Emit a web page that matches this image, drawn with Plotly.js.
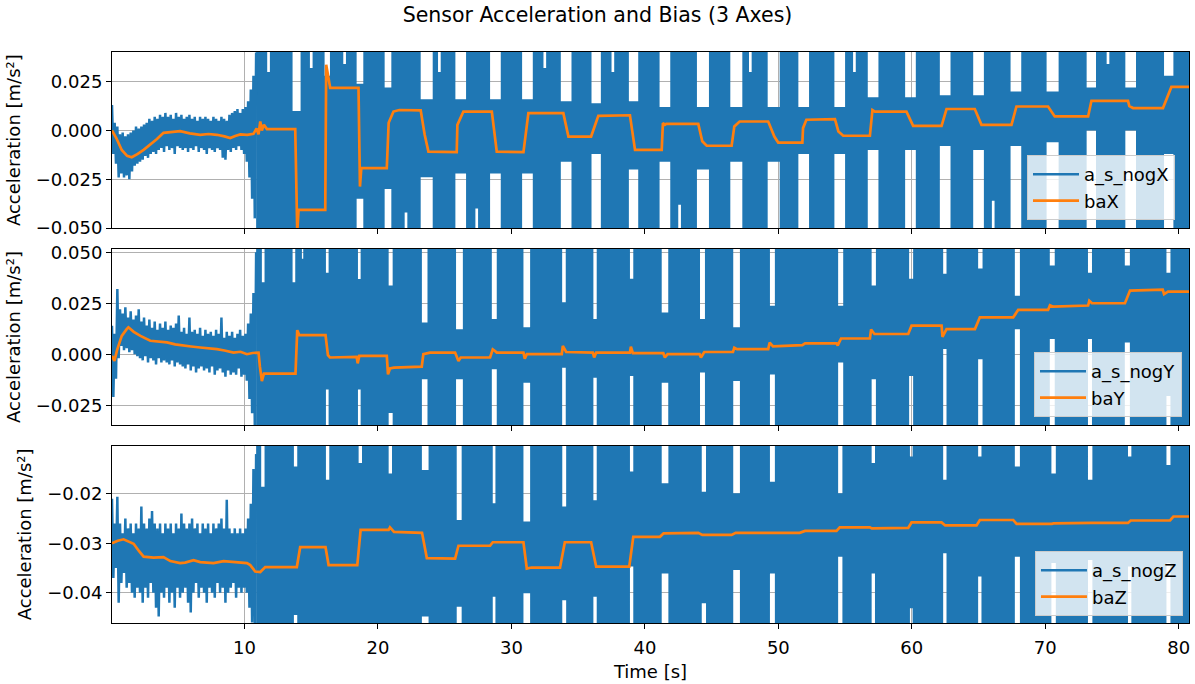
<!DOCTYPE html>
<html><head><meta charset="utf-8">
<script src="https://cdn.plot.ly/plotly-3.0.1.min.js"></script>
<style>html,body{margin:0;padding:0;background:#fff}#chart{width:1195px;height:684px}</style>
</head><body><div id="chart"></div>
<script>
// ---------- data ----------
const timeStart = 0.07, timeEnd = 80.77;
// quiet (pre-motion) part of a_s_nog*, sampled every 0.1 s from 0.07 s
const quietStart = 0.07, quietStep = 0.1;
const quietAccX = [
 0.013,-0.012,0.004,-0.017,0.002,-0.024,-0.002,-0.022,-0.001,-0.024,
 -0.003,-0.023,-0.002,-0.025,-0.001,-0.021,0.000,-0.018,0.002,-0.017,
 0.001,-0.016,0.002,-0.015,0.003,-0.013,0.004,-0.014,0.006,-0.012,
 0.005,-0.011,0.007,-0.012,0.006,-0.010,0.008,-0.009,0.007,-0.011,
 0.009,-0.008,0.007,-0.010,0.008,-0.009,0.006,-0.012,0.009,-0.008,
 0.007,-0.009,0.008,-0.010,0.006,-0.009,0.007,-0.011,0.008,-0.009,
 0.006,-0.010,0.007,-0.008,0.005,-0.011,0.007,-0.009,0.006,-0.010,
 0.007,-0.012,0.006,-0.009,0.005,-0.010,0.007,-0.011,0.006,-0.009,
 0.005,-0.010,0.007,-0.014,0.006,-0.015,0.005,-0.010,0.008,-0.011,
 0.009,-0.009,0.010,-0.010,0.011,-0.008,0.009,-0.010,0.011,-0.012,
 0.012,-0.016,0.015,-0.024,0.021,-0.035,0.028,-0.045,0.040];
const quietAccY = [
 0.014,-0.021,0.010,-0.012,0.032,-0.002,0.022,0.004,0.020,0.002,
 0.023,0.003,0.018,0.001,0.021,0.002,0.017,0.000,0.019,-0.001,
 0.022,-0.002,0.016,-0.003,0.018,-0.001,0.014,-0.004,0.017,-0.002,
 0.013,-0.003,0.016,-0.005,0.012,-0.002,0.015,-0.004,0.013,-0.003,
 0.016,-0.004,0.012,-0.005,0.014,-0.003,0.013,-0.006,0.015,-0.004,
 0.019,-0.005,0.011,-0.006,0.013,-0.007,0.010,-0.005,0.018,-0.008,
 0.011,-0.006,0.012,-0.009,0.010,-0.007,0.013,-0.006,0.009,-0.008,
 0.012,-0.007,0.010,-0.009,0.011,-0.006,0.009,-0.010,0.012,-0.008,
 0.010,-0.007,0.018,-0.009,0.008,-0.011,0.011,-0.008,0.009,-0.010,
 0.011,-0.009,0.008,-0.010,0.010,-0.007,0.012,-0.011,0.009,-0.010,
 0.010,-0.013,0.015,-0.022,0.020,-0.029,0.030,-0.035,0.050];
const quietAccZ = [
 -0.021,-0.037,-0.026,-0.035,-0.0206,-0.042,-0.026,-0.038,-0.028,-0.036,
 -0.025,-0.039,-0.027,-0.038,-0.026,-0.040,-0.028,-0.041,-0.026,-0.039,
 -0.027,-0.040,-0.0226,-0.042,-0.026,-0.039,-0.027,-0.041,-0.025,-0.038,
 -0.0235,-0.040,-0.026,-0.043,-0.027,-0.0448,-0.026,-0.040,-0.028,-0.041,
 -0.026,-0.039,-0.027,-0.042,-0.026,-0.040,-0.028,-0.043,-0.026,-0.039,
 -0.027,-0.041,-0.024,-0.040,-0.026,-0.039,-0.027,-0.042,-0.026,-0.044,
 -0.025,-0.040,-0.027,-0.038,-0.026,-0.041,-0.028,-0.039,-0.026,-0.040,
 -0.027,-0.042,-0.026,-0.039,-0.028,-0.040,-0.026,-0.041,-0.027,-0.038,
 -0.026,-0.040,-0.025,-0.039,-0.027,-0.042,-0.0212,-0.040,-0.027,-0.039,
 -0.028,-0.038,-0.027,-0.041,-0.028,-0.039,-0.027,-0.040,-0.028,-0.039,
 -0.027,-0.040,-0.025,-0.043,-0.022,-0.046,-0.015,-0.047,-0.012];

// motion part: a_s_nog* swings far beyond the axes; white gaps where it stays inside
// each gap: start s, end s, upper reach (null = off-scale), lower reach (null = off-scale)
const loudStart = 10.87;
const gapStartX = [11.7,13.6,14.9,16.0,17.4,18.4,20.5,22.0,23.2,24.5,25.8,27.3,28.4,30.8,32.4,33.7,36.0,37.5,38.8,41.1,42.5,43.9,46.4,47.8,49.2,51.5,54.2,55.6,56.7,59.5,62.1,64.6,66.0,67.4,70.1,73.1,74.6,76.0,78.9];
const gapEndX   = [11.9,14.2,15.1,16.4,17.6,18.9,21.0,22.2,24.1,24.7,26.6,27.5,29.2,31.6,32.6,34.5,36.7,37.7,39.5,41.9,42.7,44.8,47.3,48.0,50.1,52.3,55.0,55.8,57.5,60.3,62.9,65.4,66.2,68.2,71.0,73.8,74.8,76.8,79.6];
const gapTopX   = [0.03,0.010,0.032,0.028,0.034,0.024,0.022,null,0.016,0.030,0.016,null,0.016,0.016,0.032,0.015,0.014,0.030,0.015,0.012,null,0.012,0.012,0.030,0.012,0.012,0.012,0.030,0.017,0.017,0.018,0.018,null,0.020,0.020,0.022,0.034,0.022,0.028];
const gapBotX   = [null,null,null,null,null,-0.035,-0.030,-0.042,-0.024,null,-0.022,-0.040,-0.022,-0.022,null,-0.016,-0.012,null,-0.020,-0.016,-0.038,-0.020,-0.016,null,-0.016,-0.012,-0.012,null,-0.010,-0.010,-0.008,-0.010,-0.036,-0.008,-0.006,0.000,null,0.000,-0.012];

const gapStartY = [11.3,13.6,14.3,16.1,18.5,20.8,23.29,25.85,28.53,30.9,33.8,36.14,38.88,41.26,44.13,46.62,49.37,54.48,56.99,59.8,62.35,64.97,67.72,70.34,73.2,75.96,79.08];
const gapEndY   = [11.5,13.8,14.4,16.3,18.7,21.1,23.71,26.36,28.9,31.4,34.07,36.39,39.13,41.75,44.5,47.12,49.74,54.86,57.31,60.1,62.6,65.3,68.1,70.71,73.5,76.34,79.38];
const gapTopY   = [0.0353,0.0353,0.0468,0.040,0.0369,0.0337,0.0156,0.0123,0.0173,0.0132,0.0255,0.0173,0.037,0.0205,0.0173,0.0132,0.0238,0.0238,0.0337,0.037,0.0394,0.042,0.0287,0.0435,0.040,0.0435,0.040];
const gapBotY   = [null,null,null,-0.0173,-0.0173,-0.0288,-0.0123,-0.0123,-0.0074,-0.014,-0.0066,-0.0115,-0.0107,-0.014,-0.009,-0.0131,-0.0099,-0.0041,-0.0123,-0.0107,0.0025,-0.0025,0.0123,0.0074,0.0074,0.0058,-0.0205];

const gapStartZ = [11.25,13.7,16.1,18.55,20.8,23.29,25.9,28.6,30.9,33.81,36.14,38.88,41.26,44.26,46.62,49.37,54.48,56.99,59.86,62.35,64.97,67.72,70.46,73.2,76.2,79.08];
const gapEndZ   = [11.5,13.95,16.35,18.8,21.05,23.79,26.27,28.8,31.4,34.1,36.39,39.13,41.76,44.58,47.12,49.74,54.8,57.24,60.06,62.6,65.22,68.1,70.79,73.53,76.45,79.38];
const gapTopZ   = [-0.0186,-0.0145,-0.0172,-0.0138,-0.0159,-0.0152,-0.0253,-0.0219,-0.0256,-0.0226,-0.0213,-0.0155,-0.0179,-0.0196,-0.0199,-0.0176,-0.0199,-0.0138,-0.0125,-0.0172,-0.0125,-0.0145,-0.0159,-0.0172,-0.0125,-0.0142];
const gapBotZ   = [null,-0.0445,null,null,null,-0.0448,-0.0428,-0.0408,-0.0401,-0.0415,-0.0408,-0.0347,-0.0361,-0.0421,-0.0354,-0.0361,-0.0327,-0.0361,-0.0431,-0.032,-0.0367,-0.0327,-0.034,-0.0334,-0.0347,-0.034];

// bias estimates
const biasTimeX = [0.07,0.4,0.8,1.2,1.55,2.0,2.44,2.9,3.44,3.93,4.5,5.18,5.9,6.68,7.3,7.93,8.5,8.93,9.3,9.68,10.2,10.67,10.9,11.05,11.18,11.3,11.45,11.68,13.8,13.9,13.95,14.05,16.05,16.12,16.3,16.42,18.54,18.6,18.65,18.75,20.66,20.8,21.16,21.6,23.2,23.5,23.78,25.9,25.95,26.4,28.53,28.9,30.9,31.27,33.89,34.27,35.97,36.51,38.88,39.26,41.26,41.35,41.5,41.6,44.0,44.3,44.63,46.5,46.7,47.1,49.24,49.7,49.99,51.8,51.85,52.1,54.24,54.5,54.86,56.86,57.05,57.23,59.6,60.1,62.23,62.6,64.72,65.22,67.47,67.84,70.21,70.71,73.21,73.46,76.2,76.3,76.58,78.82,79.1,79.45,80.77];
const biasValX = [0.000,-0.004,-0.010,-0.013,-0.0137,-0.012,-0.0099,-0.0075,-0.0044,-0.0012,-0.0008,-0.0003,-0.0015,-0.0022,-0.0018,-0.0022,-0.0030,-0.0039,-0.0028,-0.0020,-0.0022,-0.0017,0.001,-0.002,0.0046,0.000,0.003,0.0007,0.0007,-0.030,-0.052,-0.0407,-0.0407,0.0337,0.025,0.0218,0.0218,-0.0193,-0.0287,-0.0193,-0.0193,0.004,0.0097,0.0105,0.0103,-0.0022,-0.0108,-0.0111,0.0029,0.0097,0.0097,-0.0108,-0.0111,0.0089,0.0089,-0.0031,-0.0031,0.0075,0.0078,-0.0099,-0.0099,0.0038,0.0029,0.0034,0.0034,-0.0055,-0.0078,-0.0078,0.0021,0.0046,0.0046,-0.0031,-0.0062,-0.0062,0.0012,0.0055,0.0058,-0.0005,-0.0027,-0.0027,0.0105,0.0097,0.0097,0.0024,0.0024,0.011,0.011,0.0029,0.0029,0.0123,0.0123,0.0072,0.0072,0.0152,0.0152,0.0125,0.0115,0.0115,0.016,0.0223,0.0223];

const biasTimeY = [0.07,0.25,0.45,0.8,1.17,1.3,1.7,2.2,2.94,3.5,4.19,4.8,5.43,6.0,6.68,7.3,7.93,8.5,9.18,9.7,10.18,10.6,11.05,11.15,11.3,11.45,13.82,13.95,14.1,16.07,16.25,16.4,18.4,18.48,18.6,20.66,20.75,20.9,21.2,23.28,23.4,23.9,25.78,26.03,26.2,28.4,28.6,28.77,28.9,30.9,31.0,31.15,33.77,33.85,34.1,36.1,36.2,36.35,38.88,38.95,39.1,41.38,41.5,41.7,44.1,44.2,44.45,46.6,46.7,46.9,49.24,49.35,49.6,51.8,52.0,54.36,54.45,54.7,56.86,56.95,57.2,59.73,59.98,62.23,62.3,62.6,64.73,65.1,67.6,67.97,70.21,70.35,70.6,73.21,73.3,73.5,75.97,76.35,78.8,78.9,79.2,80.77];
const biasValY = [-0.0008,-0.0033,0.002,0.009,0.0123,0.0132,0.011,0.009,0.0066,0.0062,0.0058,0.0048,0.0041,0.0038,0.0033,0.0030,0.0025,0.0018,0.0008,0.0012,0.0,0.0006,0.0008,-0.006,-0.0132,-0.0095,-0.0095,0.0118,0.0094,0.0094,-0.0005,-0.0016,-0.0013,-0.0045,-0.0008,-0.0008,-0.0099,-0.0070,-0.0066,-0.0061,0.0,0.0008,0.0008,-0.0033,-0.0016,-0.0016,0.0024,0.0016,0.0008,0.0008,-0.0022,0.0,0.0,0.0041,0.0011,0.0008,-0.0016,0.0008,0.0008,0.0037,0.0005,0.0005,-0.0016,0.0,0.0,-0.0016,0.0011,0.0011,0.0032,0.0025,0.0025,0.0057,0.0038,0.0045,0.0053,0.0053,0.0043,0.0077,0.0077,0.0121,0.0099,0.0099,0.014,0.014,0.0085,0.0123,0.0123,0.0181,0.0181,0.0217,0.0217,0.024,0.0233,0.0239,0.0262,0.025,0.025,0.0312,0.0317,0.0295,0.0307,0.0307];

const biasTimeZ = [0.07,0.5,0.94,1.3,1.69,2.1,2.44,3.19,3.93,4.44,5.18,5.55,6.18,6.68,7.68,8.43,9.18,10.18,10.43,10.8,11.18,11.55,13.92,14.17,16.07,16.3,18.45,18.7,20.8,20.9,21.2,23.3,23.66,25.78,26.03,28.4,28.6,30.9,31.15,31.5,33.64,34.0,35.97,36.35,38.83,39.13,41.13,41.4,44.0,44.3,46.5,46.8,51.6,52.0,54.36,54.6,56.86,57.0,59.73,59.98,62.23,62.5,64.85,65.1,67.6,67.85,70.5,70.6,73.5,76.2,76.4,79.35,79.6,80.77];
const biasValZ = [-0.030,-0.0295,-0.0292,-0.0296,-0.0301,-0.0316,-0.0327,-0.0329,-0.0328,-0.0336,-0.0340,-0.0339,-0.0334,-0.0338,-0.0340,-0.0336,-0.0338,-0.0340,-0.0344,-0.0357,-0.0358,-0.0348,-0.0348,-0.0308,-0.0308,-0.0344,-0.0344,-0.0273,-0.0273,-0.0268,-0.0277,-0.0279,-0.033,-0.0331,-0.0305,-0.0305,-0.0298,-0.0298,-0.0351,-0.0349,-0.0349,-0.0298,-0.0298,-0.0347,-0.0347,-0.0287,-0.0287,-0.028,-0.0279,-0.0283,-0.0283,-0.0279,-0.0279,-0.0275,-0.0275,-0.0268,-0.0268,-0.0270,-0.0269,-0.0258,-0.0258,-0.0264,-0.0264,-0.0253,-0.0253,-0.0261,-0.0261,-0.0260,-0.0259,-0.0259,-0.0254,-0.0254,-0.0246,-0.0246];

const seriesNames = ['a_s_nogX','a_s_nogY','a_s_nogZ'];
const biasNames = ['baX','baY','baZ'];
const yTickLabels = [['0.025','0.000','−0.025','−0.050'],['0.050','0.025','0.000','−0.025'],['−0.02','−0.03','−0.04']];
const yTickValues = [[0.025,0,-0.025,-0.05],[0.05,0.025,0,-0.025],[-0.02,-0.03,-0.04]];
const xTickValues = [10,20,30,40,50,60,70,80];

// ---------- build ----------
const BLUE = '#1f77b4', ORANGE = '#ff7f0e', OFF = 0.5;
function envelope(starts, ends, tops, bots){
  const t=[loudStart], hi=[OFF], lo=[-OFF];
  for (let i=0;i<starts.length;i++){
    t.push(starts[i]); hi.push(tops[i]===null?OFF:tops[i]); lo.push(bots[i]===null?-OFF:bots[i]);
    t.push(ends[i]); hi.push(OFF); lo.push(-OFF);
  }
  t.push(timeEnd); hi.push(OFF); lo.push(-OFF);
  return {t,hi,lo};
}
const quietTime = quietAccX.map((_,i)=>+(quietStart+i*quietStep).toFixed(3));
const panels = [
  {q:quietAccX, env:envelope(gapStartX,gapEndX,gapTopX,gapBotX), bt:biasTimeX, bv:biasValX},
  {q:quietAccY, env:envelope(gapStartY,gapEndY,gapTopY,gapBotY), bt:biasTimeY, bv:biasValY},
  {q:quietAccZ, env:envelope(gapStartZ,gapEndZ,gapTopZ,gapBotZ), bt:biasTimeZ, bv:biasValZ}
];
const traces = [];
panels.forEach((p,k)=>{
  const xa = k===0?'x':'x'+(k+1), ya = k===0?'y':'y'+(k+1), lg = k===0?'legend':'legend'+(k+1);
  traces.push({x:p.env.t, y:p.env.lo, xaxis:xa, yaxis:ya, mode:'lines', line:{width:0, shape:'hv', color:BLUE}, showlegend:false, hoverinfo:'skip'});
  traces.push({x:p.env.t, y:p.env.hi, xaxis:xa, yaxis:ya, mode:'lines', line:{width:0, shape:'hv', color:BLUE}, fill:'tonexty', fillcolor:BLUE, showlegend:false, hoverinfo:'skip'});
  traces.push({x:quietTime, y:p.q, xaxis:xa, yaxis:ya, mode:'lines', line:{width:2.5, color:BLUE}, name:seriesNames[k], legend:lg});
  traces.push({x:p.bt, y:p.bv, xaxis:xa, yaxis:ya, mode:'lines', line:{width:2.7, color:ORANGE}, name:biasNames[k], legend:lg});
});

const FONT = 'DejaVu Sans, Liberation Sans, sans-serif';
const axBase = {showline:true, mirror:true, linecolor:'#000', linewidth:1, ticks:'outside', ticklen:5, tickwidth:1, tickcolor:'#000',
  showgrid:true, gridcolor:'#b0b0b0', gridwidth:1, zeroline:false, tickfont:{family:FONT, size:18, color:'#000'}};
const xa = (show)=>Object.assign({}, axBase, {range:[timeStart,timeEnd], tickvals:xTickValues, ticktext:xTickValues.map(String), showticklabels:show, ticklabelstandoff:3});
const yTitle = {text:'Acceleration [m/s²]', font:{family:FONT, size:18, color:'#000'}, standoff:10};
const legendBase = {bgcolor:'rgba(255,255,255,0.8)', bordercolor:'#cccccc', borderwidth:1, xanchor:'right', yanchor:'bottom', traceorder:'normal', itemwidth:46, font:{family:FONT, size:18, color:'#000'}, tracegroupgap:0};
const ya = (k, dom, rng)=>Object.assign({}, axBase, {domain:dom, range:rng, tickvals:yTickValues[k], ticktext:yTickLabels[k], anchor:k===0?'x':'x'+(k+1), title:yTitle});

const layout = {
  width:1195, height:684, paper_bgcolor:'#fff', plot_bgcolor:'#fff',
  margin:{l:112, r:6, t:52, b:61},
  font:{family:FONT, size:18, color:'#000'},
  title:{text:'Sensor Acceleration and Bias (3 Axes)', font:{family:FONT, size:20.5, color:'#000'}, x:0.5, xref:'container', xanchor:'center', y:1-15/684, yref:'container', yanchor:'middle'},
  xaxis: Object.assign(xa(false), {anchor:'y'}),
  xaxis2: Object.assign(xa(false), {anchor:'y2', matches:'x'}),
  xaxis3: Object.assign(xa(true), {anchor:'y3', matches:'x', title:{text:'Time [s]', font:{family:FONT, size:18, color:'#000'}, standoff:8}}),
  yaxis: ya(0, [0.6912,1], [-0.0501,0.0402]),
  yaxis2: ya(1, [0.3468,0.655], [-0.0347,0.0516]),
  yaxis3: ya(2, [0,0.3105], [-0.0461,-0.0103]),
  legend: Object.assign({}, legendBase, {x:0.987, y:0.7058}),
  legend2: Object.assign({}, legendBase, {x:0.9935, y:0.3608}),
  legend3: Object.assign({}, legendBase, {x:0.9944, y:0.0123}),
  showlegend:true
};
Plotly.newPlot('chart', traces, layout, {staticPlot:true, displayModeBar:false});
</script></body></html>
